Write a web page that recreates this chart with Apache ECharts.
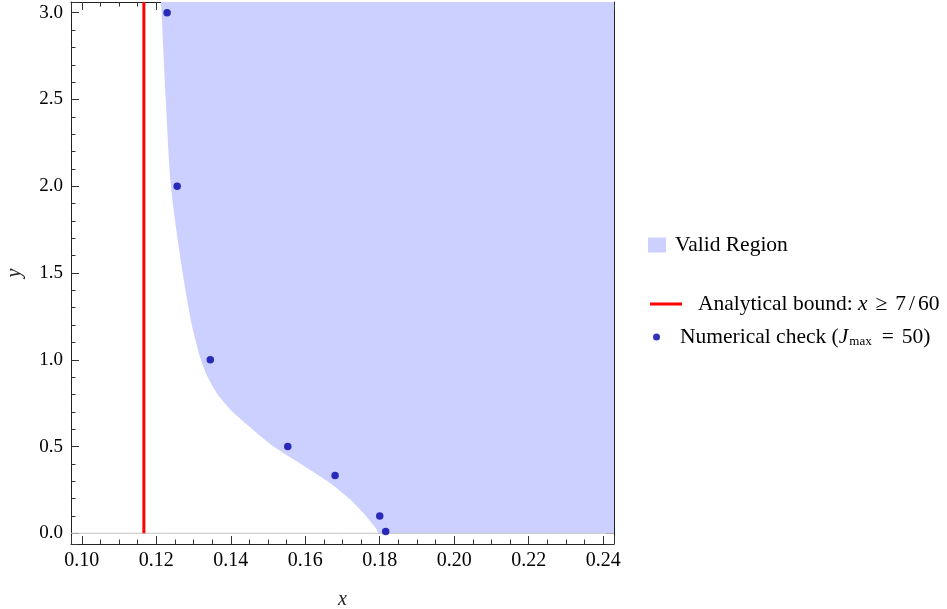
<!DOCTYPE html>
<html><head><meta charset="utf-8">
<script src="https://cdn.jsdelivr.net/npm/echarts@6/dist/echarts.min.js"></script>
<style>html,body{margin:0;padding:0;background:#fff}#c{width:947px;height:609px}</style>
</head><body><div id="c"></div>
<script>
// ---- data ----
const xRange = [0.0971, 0.2429];
const yRange = [-0.0617, 3.0617];
// left boundary of the valid region
const boundaryX = [0.12126, 0.12142, 0.12255, 0.12394, 0.12654, 0.1283, 0.12984, 0.13198, 0.1338, 0.1365, 0.1405, 0.1458, 0.1515, 0.1588, 0.1660, 0.1718, 0.1763, 0.1782, 0.1792, 0.1797, 0.1800, 0.2429];
const boundaryY = [3.0617, 3.0, 2.5, 2.0, 1.575, 1.345, 1.172, 1.0, 0.9, 0.8, 0.7, 0.6, 0.5, 0.4, 0.3, 0.2, 0.1, 0.05, 0.02, 0.0, 0.0, 0.0];
const boundX = 7 / 60;
const checkX = [0.1229, 0.1256, 0.1345, 0.1553, 0.1680, 0.1800, 0.1816];
const checkY = [3.0, 2.0, 1.0, 0.5, 0.333, 0.1, 0.01];

const FONT = 'Liberation Serif';

function pairs(xs, ys) { return xs.map((x, i) => [x, ys[i]]); }

const tickCol = '#333';
function xAxisCfg(pos, showLab) {
  return {
    type: 'value', position: pos, min: xRange[0], max: xRange[1], splitNumber: 7,
    axisLine: { show: true, onZero: false, lineStyle: { color: '#222', width: 1 } },
    axisTick: { show: true, inside: true, length: 8, lineStyle: { color: tickCol } },
    minorTick: { show: true, splitNumber: 4, length: 4.5, lineStyle: { color: tickCol } },
    splitLine: { show: false },
    axisLabel: { show: showLab, showMinLabel: false, showMaxLabel: false, margin: 7,
      formatter: v => v.toFixed(2), fontFamily: FONT, fontSize: 20, color: '#000' },
    name: showLab ? 'x' : '', nameLocation: 'middle', nameGap: 46,
    nameTextStyle: { fontFamily: FONT, fontStyle: 'italic', fontSize: 20, color: '#222' }
  };
}
function yAxisCfg(pos, showLab) {
  return {
    type: 'value', position: pos, min: yRange[0], max: yRange[1], splitNumber: 6,
    axisLine: { show: true, onZero: false, lineStyle: { color: '#222', width: 1 } },
    axisTick: { show: true, inside: true, length: 8, lineStyle: { color: tickCol } },
    minorTick: { show: true, splitNumber: 5, length: 4.5, lineStyle: { color: tickCol } },
    splitLine: { show: false },
    axisLabel: { show: showLab, showMinLabel: false, showMaxLabel: false, margin: 8,
      formatter: v => v.toFixed(1), fontFamily: FONT, fontSize: 19, color: '#000' },
    name: showLab ? 'y' : '', nameLocation: 'middle', nameGap: 46,
    nameTextStyle: { fontFamily: FONT, fontStyle: 'italic', fontSize: 20, color: '#222' }
  };
}

const LFS = 21.5;
const rich = {
  a: { fontFamily: FONT, fontSize: LFS, color: '#000' },
  i: { fontFamily: FONT, fontSize: LFS, fontStyle: 'italic', color: '#000' },
  r: { fontFamily: FONT, fontSize: LFS, color: '#000', padding: [0, 8, 0, 8] },
  sl: { fontFamily: FONT, fontSize: LFS, color: '#000', padding: [0, 3, 0, 3] },
  e: { fontFamily: FONT, fontSize: LFS, color: '#000', padding: [0, 8, 0, 8] },
  s: { fontFamily: FONT, fontSize: 13, color: '#000', padding: [9, 2, 0, 1] }
};

const chart = echarts.init(document.getElementById('c'), null, { renderer: 'canvas' });
chart.setOption({
  animation: false,
  backgroundColor: '#fff',
  grid: { left: 71, right: 333, top: 2, bottom: 65, containLabel: false, outerBoundsMode: 'none' },
  xAxis: [xAxisCfg('bottom', true), xAxisCfg('top', false)],
  yAxis: [yAxisCfg('left', true), yAxisCfg('right', false)],
  legend: [
    { data: [{ name: 'Valid Region', icon: 'rect' }], left: 648, top: 234, padding: 0,
      itemWidth: 18, itemHeight: 15, selectedMode: false,
      itemStyle: { borderWidth: 0 },
      textStyle: { rich: rich, padding: [0, 0, 0, 4] },
      formatter: () => '{a|Valid Region}' },
    { data: [{ name: 'Analytical bound', icon: 'rect' }], left: 650, top: 293, padding: 0,
      itemWidth: 32, itemHeight: 3, selectedMode: false,
      itemStyle: { borderWidth: 0 },
      textStyle: { rich: rich, padding: [0, 0, 0, 11] },
      formatter: () => '{a|Analytical bound: }{i|x}{r|≥}{a|7}{sl|/}{a|60}' },
    { data: [{ name: 'Numerical check', icon: 'circle' }], left: 653, top: 326, padding: 0,
      itemWidth: 7, itemHeight: 7, selectedMode: false,
      itemStyle: { borderWidth: 0 },
      textStyle: { rich: rich, padding: [0, 0, 0, 15] },
      formatter: () => '{a|Numerical check (}{i|J}{s|max}{e|=}{a|50)}' }
  ],
  series: [
    { type: 'line', name: 'Valid Region', data: pairs(boundaryX, boundaryY),
      symbol: 'none', color: '#ccd0fe', lineStyle: { width: 0 }, smooth: 0.25,
      areaStyle: { origin: 'end', color: '#ccd0fe', opacity: 1 }, z: 1, silent: true },
    { type: 'line', data: [[xRange[0], 0], [xRange[1], 0]], symbol: 'none',
      lineStyle: { color: '#c4c4c4', width: 1 }, z: 2, silent: true },
    { type: 'line', name: 'Analytical bound', data: [[boundX, 0], [boundX, yRange[1]]],
      symbol: 'none', color: '#ff0000', lineStyle: { color: '#ff0000', width: 3 }, z: 3 },
    { type: 'scatter', name: 'Numerical check', data: pairs(checkX, checkY),
      symbolSize: 7.5, color: '#0000a8', itemStyle: { color: '#0000a8' }, z: 4 }
  ]
});
</script></body></html>
